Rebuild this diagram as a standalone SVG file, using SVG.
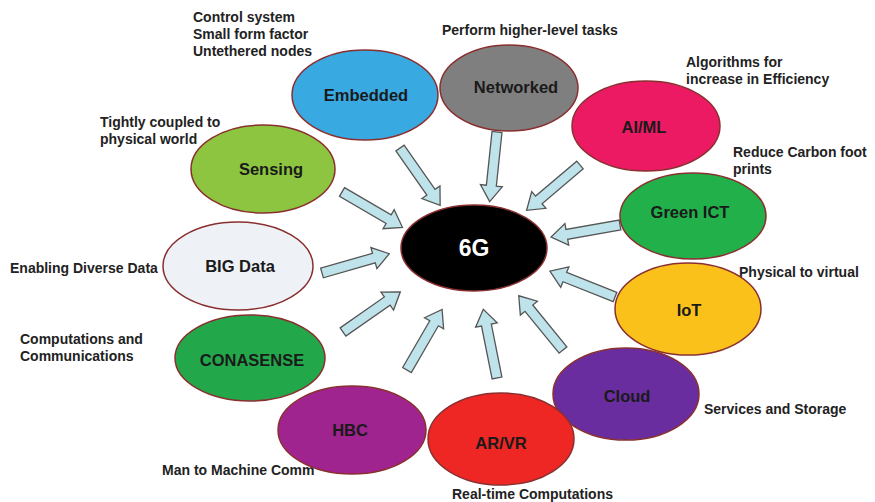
<svg xmlns="http://www.w3.org/2000/svg" width="875" height="502" viewBox="0 0 875 502">
<style>
.bg{fill:#ffffff}
.node{stroke:#8a2f2f;stroke-width:1.5}
.lbl{font-family:"Liberation Sans",Arial,sans-serif;font-weight:bold;font-size:16.5px;fill:#1a1a1a;text-anchor:middle}
.note{font-family:"Liberation Sans",Arial,sans-serif;font-weight:bold;font-size:14px;fill:#222}
.arr{fill:#bfe3ea;stroke:#555;stroke-width:1.3;stroke-linejoin:miter}
</style>
<defs>
<path id="arrow" class="arr" d="M0,-5 L54,-5 L54,-11 L70,0 L54,11 L54,5 L0,5 Z"/>
</defs>
<rect class="bg" x="0" y="0" width="875" height="502"/>

<g id="notes">
<text class="note" x="193" y="22">Control system</text>
<text class="note" x="193" y="39">Small form factor</text>
<text class="note" x="193" y="56">Untethered nodes</text>
<text class="note" x="442" y="35">Perform higher-level tasks</text>
<text class="note" x="686" y="67">Algorithms  for</text>
<text class="note" x="686" y="84">increase in Efficiency</text>
<text class="note" x="100" y="127">Tightly coupled to</text>
<text class="note" x="100" y="144">physical world</text>
<text class="note" x="733" y="157">Reduce Carbon foot</text>
<text class="note" x="733" y="174">prints</text>
<text class="note" x="739" y="277">Physical to virtual</text>
<text class="note" x="10" y="273">Enabling Diverse Data</text>
<text class="note" x="20" y="344">Computations  and</text>
<text class="note" x="20" y="361">Communications</text>
<text class="note" x="704" y="414">Services and Storage</text>
<text class="note" x="162" y="475">Man to Machine Comm</text>
<text class="note" x="452" y="499">Real-time Computations</text>
</g>

<g id="connectors">
<use href="#arrow" transform="translate(342,192) rotate(30.3)"/>
<use href="#arrow" transform="translate(400,148) rotate(55)"/>
<use href="#arrow" transform="translate(497,132) rotate(96)"/>
<use href="#arrow" transform="translate(580,165) rotate(139.7)"/>
<use href="#arrow" transform="translate(620,225) rotate(170)"/>
<use href="#arrow" transform="translate(615,297) rotate(201.6)"/>
<use href="#arrow" transform="translate(563,350) rotate(230.8)"/>
<use href="#arrow" transform="translate(497,378) rotate(258.7)"/>
<use href="#arrow" transform="translate(407,370) rotate(-59.9)"/>
<use href="#arrow" transform="translate(343,332) rotate(-35)"/>
<use href="#arrow" transform="translate(322,273) rotate(-16)"/>
</g>

<g id="embedded"><ellipse class="node" cx="365" cy="95" rx="73" ry="45" fill="#38a9e1" stroke="#a0303a"/><text class="lbl" x="366" y="101">Embedded</text></g>
<g id="networked"><ellipse class="node" cx="509" cy="88" rx="69" ry="43" fill="#7f7f7f" stroke="#333"/><text class="lbl" x="516" y="93">Networked</text></g>
<g id="aiml"><ellipse class="node" cx="646" cy="126" rx="74" ry="45" fill="#ec1a63"/><text class="lbl" x="644" y="133">AI/ML</text></g>
<g id="sensing"><ellipse class="node" cx="263" cy="169" rx="72" ry="44" fill="#8dc540" stroke="#3d5a1a"/><text class="lbl" x="271" y="175">Sensing</text></g>
<g id="green-ict"><ellipse class="node" cx="693" cy="216" rx="73" ry="43" fill="#22b04b"/><text class="lbl" x="690" y="218">Green ICT</text></g>
<g id="big-data"><ellipse class="node" cx="238" cy="266" rx="75" ry="44" fill="#eef2f7" stroke="#d06a6a"/><text class="lbl" x="240" y="272">BIG Data</text></g>
<g id="iot"><ellipse class="node" cx="688" cy="309" rx="73" ry="46" fill="#fbc11b"/><text class="lbl" x="689" y="316">IoT</text></g>
<g id="conasense"><ellipse class="node" cx="250" cy="358" rx="75" ry="43" fill="#22a84a"/><text class="lbl" x="252" y="366">CONASENSE</text></g>
<g id="cloud"><ellipse class="node" cx="626" cy="394" rx="73" ry="46" fill="#6a2d9f"/><text class="lbl" x="627" y="402">Cloud</text></g>
<g id="hbc"><ellipse class="node" cx="352" cy="430" rx="74" ry="44" fill="#a0248f"/><text class="lbl" x="350" y="436">HBC</text></g>
<g id="arvr"><ellipse class="node" cx="501" cy="439" rx="73" ry="46" fill="#ee2624"/><text class="lbl" x="501" y="449">AR/VR</text></g>
<g id="sixg"><ellipse class="node" cx="474" cy="248" rx="73" ry="43" fill="#000" stroke="#8a2020"/><text class="lbl" x="474" y="256" style="fill:#fff;font-size:23px">6G</text></g>
</svg>
